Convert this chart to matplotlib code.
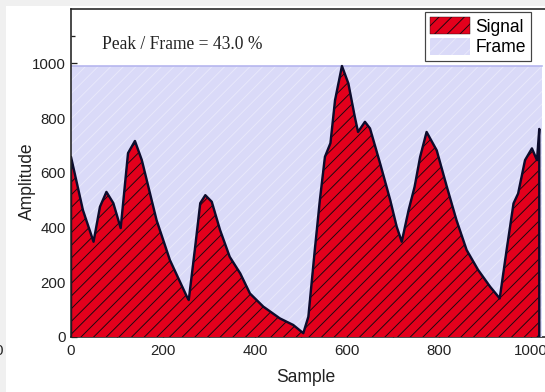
import matplotlib
matplotlib.use("Agg")
import matplotlib.pyplot as plt
from matplotlib.patches import Patch, Rectangle

# values
sample = [0, 26, 49, 63, 77, 92, 108, 124, 139, 154, 186, 215, 252, 256,
          270, 281, 292, 306, 324, 345, 368, 389, 418, 454, 483, 505,
          516, 530, 541, 552, 564, 574, 589, 603, 617, 624, 639, 650,
          672, 694, 708, 719, 734, 747, 759, 773, 795, 817, 838, 860,
          885, 911, 932, 947, 962, 972, 987, 1002, 1013, 1018]
amplitude = [658, 463, 348, 476, 530, 489, 398, 672, 716, 646, 427, 281, 147, 135,
             330, 489, 518, 494, 391, 293, 232, 159, 111, 68, 44, 14,
             74, 318, 500, 658, 708, 865, 990, 926, 804, 749, 786, 762,
             634, 500, 403, 348, 464, 549, 658, 749, 682, 549, 427, 318,
             245, 184, 141, 318, 488, 524, 646, 689, 646, 760]
frame_x = [0, 1023]
frame_level = [990, 990]
peak_text = "Peak / Frame = 43.0 %"

DPI = 76
W, H = 545, 392
RED = "#e3001c"
LAV = "#dadaf8"


def px(v):
    # pixels -> points
    return v * 72 / DPI


plt.rcParams["font.family"] = ["Liberation Sans", "DejaVu Sans"]
plt.rcParams["hatch.linewidth"] = 0.9

fig = plt.figure(figsize=(W / DPI, H / DPI), dpi=DPI, facecolor="#f0f0f0")
fig.patches.append(Rectangle((6 / W, 0), 1, 1 - 6 / H, transform=fig.transFigure,
                             facecolor="white", edgecolor="none", zorder=-10))

ax = fig.add_axes([71 / W, 55 / H, 1100 * 0.46 / W, 328.5 / H])
ax.set_facecolor("white")

# frame
ax.fill_between(frame_x, 0, frame_level, facecolor=LAV, edgecolor="none", zorder=2)
ax.fill_between(frame_x, 0, frame_level, facecolor="none", edgecolor="#e8e8fb",
                hatch="//", linewidth=0, zorder=2.1)
ax.plot(frame_x, frame_level, color="#b4b4ee", lw=px(1.6), zorder=2.2)

# signal
ax.fill_between(sample, 0, amplitude, facecolor=RED, edgecolor="#1a0a10",
                hatch="//", linewidth=0, zorder=3)
ax.plot([0] + sample + [sample[-1]], [0] + amplitude + [0],
        color="#0c0c2c", lw=px(2.4), zorder=3.5, solid_joinstyle="round")

ax.set_xlim(0, 1100)
ax.set_ylim(0, 1200)
ax.set_xticks([0, 200, 400, 600, 800, 1000])
ax.set_yticks([0, 200, 400, 600, 800, 1000])
ax.set_yticks(range(100, 1200, 200), minor=True)
ax.set_xticks(range(100, 1100, 200), minor=True)
ax.tick_params(which="both", direction="in", labelsize=px(15), colors="#222222")
ax.tick_params(which="major", length=px(6), width=px(1.3))
ax.tick_params(which="minor", length=px(4), width=px(1.3))
ax.tick_params(axis="x", pad=px(7))
ax.tick_params(axis="y", pad=px(5))
for side, sp in ax.spines.items():
    sp.set_color("#222222")
    sp.set_linewidth(px(1.6))
    sp.set_zorder(4)
ax.spines["bottom"].set_zorder(1)
ax.spines["right"].set_visible(False)

ax.text(68, 1070, peak_text, family=["Liberation Serif", "DejaVu Serif"],
        fontsize=px(17.5), ha="left", va="center", color="#222222", zorder=5)

fig.text(306 / W, 1 - 378 / H, "Sample", fontsize=px(17.5), ha="center",
         va="center", color="#222222")
fig.text(27 / W, 1 - 181 / H, "Amplitude", fontsize=px(17.5), ha="center",
         va="center", rotation=90, color="#222222")
fig.text(-6 / W, 1 - 351 / H, "0", fontsize=px(15), ha="left", va="center",
         color="#222222")

handles = [Patch(facecolor=RED, edgecolor="#1a0a10", hatch="//", lw=0.4),
           Patch(facecolor=LAV, edgecolor="#e8e8fb", hatch="//", lw=0)]
leg = fig.legend(handles, ["Signal", "Frame"], loc="upper right",
                 bbox_to_anchor=(531 / W, 1 - 12 / H), fontsize=px(17.5),
                 frameon=True, fancybox=False, framealpha=1, edgecolor="#444444",
                 borderpad=0.3, labelspacing=0.12, handlelength=2.3,
                 handleheight=1.1, handletextpad=0.3, borderaxespad=0)
leg.get_frame().set_linewidth(px(1.2))
leg.set_zorder(6)

fig.savefig("out.png", dpi=DPI, facecolor=fig.get_facecolor())
